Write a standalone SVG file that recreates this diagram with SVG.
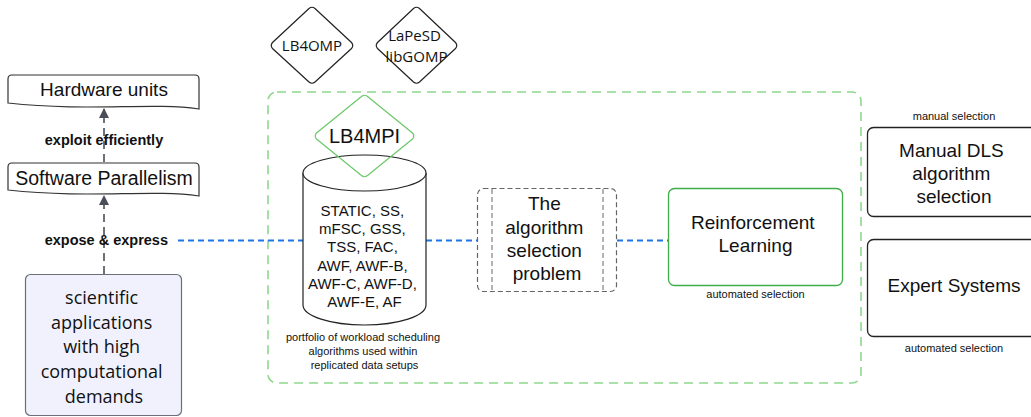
<svg xmlns="http://www.w3.org/2000/svg" width="1031" height="417" viewBox="0 0 1031 417">
<style>
.sans{font-family:"Liberation Sans",Arial,sans-serif;fill:#111;}
.open{font-family:"Open Sans","Noto Sans",sans-serif;fill:#111;}
.box{fill:#fff;stroke:#333;stroke-width:1.2;}
.blue{stroke:#1f74e8;stroke-width:2;stroke-dasharray:6,4;fill:none;}
.dark{stroke:#4a4f57;stroke-width:1.6;stroke-dasharray:8,5;fill:none;}
</style>
<defs>
<marker id="ah" viewBox="0 0 10 10" refX="9" refY="5" markerWidth="10" markerHeight="10" markerUnits="userSpaceOnUse" orient="auto">
<path d="M0,0 L10,5 L0,10 z" fill="#4a4f57"/>
</marker>
</defs>
<rect width="1031" height="417" fill="#fff"/>

<g id="container">
<rect x="268" y="92" width="593" height="291" rx="9" fill="none" stroke="#8ed88e" stroke-width="1.6" stroke-dasharray="9,6"/>
</g>

<g id="connectors">
<line class="blue" x1="178" y1="240.5" x2="303" y2="240.5"/>
<line class="blue" x1="426" y1="240.5" x2="477" y2="240.5"/>
<line class="blue" x1="617" y1="240.5" x2="668" y2="240.5"/>
<line class="dark" x1="104" y1="274" x2="104" y2="196" marker-end="url(#ah)"/>
<line class="dark" x1="104" y1="162" x2="104" y2="109" marker-end="url(#ah)"/>
<text class="sans" x="104" y="145" text-anchor="middle" font-size="14.5" font-weight="bold">exploit efficiently</text>
<text class="sans" x="168" y="245" text-anchor="end" font-size="14.5" font-weight="bold">expose &amp; express</text>
</g>

<g id="hardware">
<path class="box" d="M8,79 Q8,75 12,75 L195,75 Q199,75 199,79 L199,109 C150,102 90,112 8,103 Z"/>
<text class="sans" x="104" y="96" text-anchor="middle" font-size="19">Hardware units</text>
</g>

<g id="software">
<path class="box" d="M8,167 Q8,163 12,163 L195,163 Q199,163 199,167 L199,196 C150,189 90,199 8,190 Z"/>
<text class="sans" x="104" y="184.5" text-anchor="middle" font-size="19.5">Software Parallelism</text>
</g>

<g id="sciapp">
<rect x="25.5" y="274.5" width="156" height="141" rx="5" fill="#f0f1fd" stroke="#6b6f78" stroke-width="1.2"/>
<text class="open" text-anchor="middle" font-size="18">
<tspan x="104" y="304">scientific</tspan>
<tspan x="104" y="329">applications</tspan>
<tspan x="104" y="353">with high</tspan>
<tspan x="104" y="378">computational</tspan>
<tspan x="104" y="403">demands</tspan>
</text>
</g>

<g id="lb4omp">
<path d="M309,8.5 Q312,6 315,8.5 L351.5,42.5 Q354,45.5 351.5,48.5 L315,82 Q312,84.5 309,82 L272.5,48.5 Q270,45.5 272.5,42.5 Z" fill="#fff" stroke="#222" stroke-width="1.2"/>
<text class="open" x="312" y="51" text-anchor="middle" font-size="15">LB4OMP</text>
</g>

<g id="lapesd">
<path d="M413.5,8.5 Q416.5,6 419.5,8.5 L455.5,42.5 Q458,45.5 455.5,48.5 L419.5,82 Q416.5,84.5 413.5,82 L377.5,48.5 Q375,45.5 377.5,42.5 Z" fill="#fff" stroke="#222" stroke-width="1.2"/>
<text class="open" text-anchor="middle" font-size="15">
<tspan x="416.5" y="41">LaPeSD</tspan>
<tspan x="416.5" y="62">libGOMP</tspan>
</text>
</g>

<g id="cylinder">
<path d="M303,173 L303,305 A61.5,20 0 0 0 426,305 L426,173" fill="#fff" stroke="#222" stroke-width="1.2"/>
<ellipse cx="364.5" cy="173" rx="61.5" ry="18" fill="#fff" stroke="#222" stroke-width="1.2"/>
<text class="sans" text-anchor="middle" font-size="15">
<tspan x="364.5" y="215.5">STATIC, SS,</tspan>
<tspan x="364.5" y="234">mFSC, GSS,</tspan>
<tspan x="364.5" y="252">TSS, FAC,</tspan>
<tspan x="364.5" y="270.5">AWF, AWF-B,</tspan>
<tspan x="364.5" y="288.5">AWF-C, AWF-D,</tspan>
<tspan x="364.5" y="307">AWF-E, AF</tspan>
</text>
<text class="sans" text-anchor="middle" font-size="11">
<tspan x="364.5" y="341">portfolio of workload scheduling</tspan>
<tspan x="364.5" y="355">algorithms used within</tspan>
<tspan x="364.5" y="369">replicated data setups</tspan>
</text>
</g>

<g id="lb4mpi">
<path d="M361.5,96.5 Q364.5,94 367.5,96.5 L412.5,133 Q415,136 412.5,139 L367.5,175.5 Q364.5,178 361.5,175.5 L316.5,139 Q314,136 316.5,133 Z" fill="none" stroke="#6cc86c" stroke-width="1.2"/>
<text class="sans" x="364.5" y="143" text-anchor="middle" font-size="20">LB4MPI</text>
</g>

<g id="algsel">
<rect x="477.5" y="188.5" width="139" height="103" rx="6" fill="#fff" stroke="#666" stroke-width="1.2" stroke-dasharray="5,3"/>
<line x1="492" y1="189" x2="492" y2="291" stroke="#666" stroke-width="1" stroke-dasharray="5,3"/>
<line x1="603" y1="189" x2="603" y2="291" stroke="#666" stroke-width="1" stroke-dasharray="5,3"/>
<text class="sans" text-anchor="middle" font-size="19">
<tspan x="547" y="210">The</tspan>
<tspan x="547" y="233.5">algorithm</tspan>
<tspan x="547" y="256.5">selection</tspan>
<tspan x="547" y="280">problem</tspan>
</text>
</g>

<g id="rl">
<rect x="668.5" y="188.5" width="174" height="97" rx="6" fill="#fff" stroke="#3fae49" stroke-width="1.3"/>
<text class="sans" text-anchor="middle" font-size="19">
<tspan x="755.5" y="229">Reinforcement</tspan>
<tspan x="755.5" y="252">Learning</tspan>
</text>
<text class="sans" x="755.5" y="298" text-anchor="middle" font-size="11">automated selection</text>
</g>

<g id="manual">
<rect x="867.5" y="127.5" width="180" height="89" rx="6" fill="#fff" stroke="#222" stroke-width="1.3"/>
<text class="sans" x="954" y="120" text-anchor="middle" font-size="11">manual selection</text>
<text class="sans" text-anchor="middle" font-size="19">
<tspan x="954" y="157">Manual DLS</tspan>
<tspan x="954" y="180">algorithm</tspan>
<tspan x="954" y="203">selection</tspan>
</text>
</g>

<g id="expert">
<rect x="867.5" y="239.5" width="180" height="97" rx="6" fill="#fff" stroke="#222" stroke-width="1.3"/>
<text class="sans" x="954" y="292" text-anchor="middle" font-size="19">Expert Systems</text>
<text class="sans" x="954" y="352" text-anchor="middle" font-size="11">automated selection</text>
</g>
</svg>
